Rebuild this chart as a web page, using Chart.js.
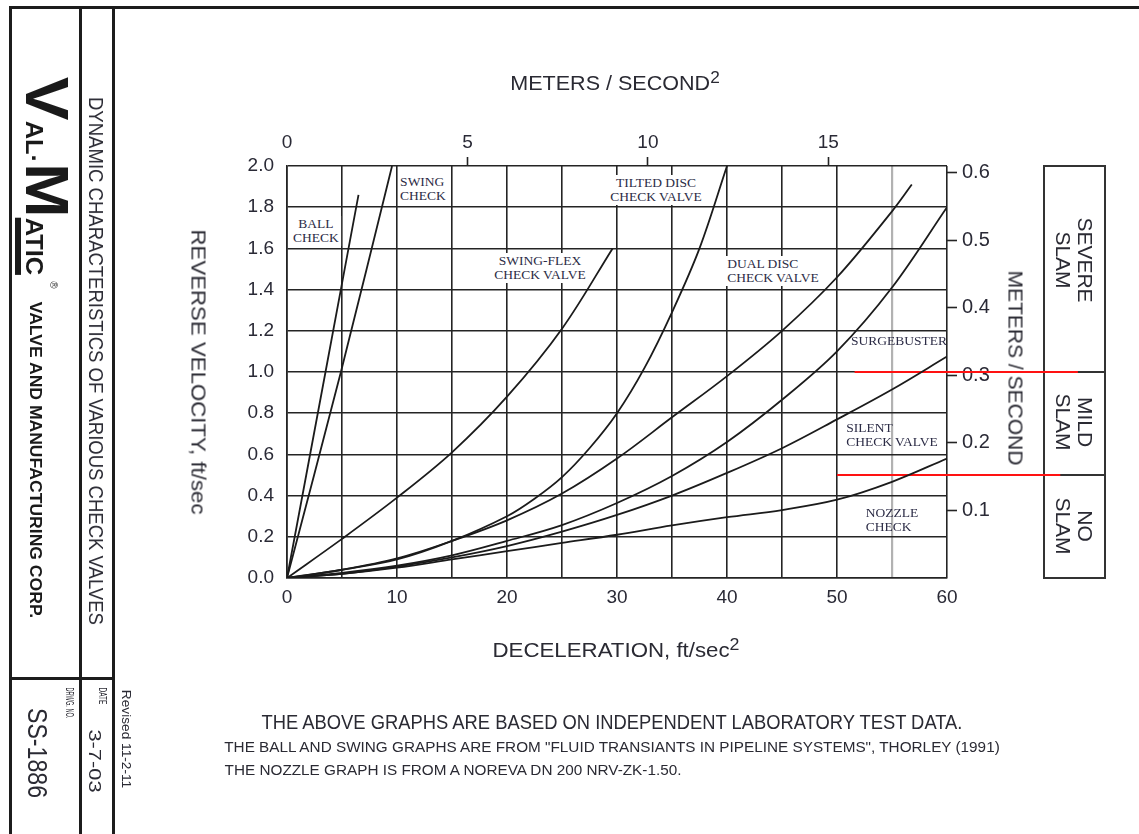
<!DOCTYPE html>
<html>
<head>
<meta charset="utf-8">
<title>Dynamic characteristics of various check valves</title>
<script src="https://cdn.jsdelivr.net/npm/chart.js@4.4.0/dist/chart.umd.min.js"></script>
<style>
  html, body { margin: 0; padding: 0; background: #fff; }
  body { position: relative; width: 1139px; height: 834px; overflow: hidden;
         font-family: "Liberation Sans", Arial, sans-serif; color: #222; }
  #wrap { position: absolute; left: 0; top: 0; width: 1139px; height: 834px; z-index: 2; }
  .rule { position: absolute; background: #1c1c1c; z-index: 1; }
  .txt { position: absolute; white-space: nowrap; line-height: 1; z-index: 3; color: #2a2a33; }
  .lbl { position: absolute; z-index: 3; white-space: nowrap;
         font-family: "Liberation Serif", "Times New Roman", serif;
         font-size: 13.5px; line-height: 14px; color: #2c2c46; padding: 1px 2px; }
  #slam { position: absolute; left: 1043px; top: 165px; width: 63px; height: 414px;
          border: 2px solid #333; box-sizing: border-box; z-index: 1; }
  #slam div { position: absolute; left: 0; right: 0; height: 2px; background: #333; }
  sup { font-size: 0.8em; vertical-align: 0.45em; line-height: 0; }
</style>
</head>
<body>
<div class="rule" style="left:10px; top:6px; width:1129px; height:3px;"></div>
<div class="rule" style="left:9px; top:6px; width:3px; height:828px;"></div>
<div class="rule" style="left:79px; top:6px; width:3px; height:828px;"></div>
<div class="rule" style="left:112px; top:6px; width:3px; height:828px;"></div>
<div class="rule" style="left:10px; top:677px; width:104px; height:3px;"></div>

<div id="slam"><div style="top:204px"></div><div style="top:307px"></div></div>

<div id="wrap"><canvas id="chart" width="1139" height="834"></canvas></div>

<script>
// values: x = deceleration (ft/sec2), y = reverse velocity (ft/sec)
const ballCheck  = [[0, 0], [3.5, 1.0], [6.5, 1.86]];
const swingCheck = [[0, 0], [4.9, 1.0], [9.55, 2.0]];
const swingFlex  = [[0, 0], [5, 0.19], [10, 0.39], [15, 0.61], [20, 0.88], [25, 1.21], [29.6, 1.6]];
const tiltedDisc = [[0, 0], [5, 0.04], [10, 0.09], [15, 0.18], [20, 0.3], [22.5, 0.385], [25, 0.49],
                    [27.5, 0.63], [30, 0.8], [32.5, 1.02], [35, 1.29], [37.5, 1.6], [40, 2.0]];
const dualDisc   = [[0, 0], [5, 0.04], [10, 0.095], [15, 0.18], [20, 0.28], [25, 0.41], [30, 0.58],
                    [35, 0.78], [40, 0.98], [45, 1.2], [50, 1.46], [55, 1.78], [56.8, 1.91]];
const surgebuster = [[0, 0], [5, 0.025], [10, 0.06], [15, 0.11], [20, 0.18], [25, 0.257], [30, 0.364],
                     [35, 0.495], [40, 0.66], [45, 0.865], [50, 1.1], [55, 1.41], [60, 1.8]];
const silentCheck = [[0, 0], [5, 0.02], [10, 0.055], [15, 0.1], [20, 0.155], [25, 0.225], [30, 0.306],
                     [35, 0.4], [40, 0.51], [45, 0.63], [50, 0.77], [55, 0.915], [60, 1.075]];
const nozzleCheck = [[0, 0], [5, 0.02], [10, 0.05], [15, 0.09], [20, 0.13], [25, 0.17], [30, 0.21],
                     [35, 0.255], [40, 0.295], [45, 0.33], [50, 0.38], [55, 0.467], [60, 0.58]];

// slam limits (run on into the slam column on the right)
const severeLimit = [[51.6, 1.0], [71.9, 1.0]];
const mildLimit   = [[50, 0.5], [70.3, 0.5]];

// tick labels
const decelLabels = [0, 10, 20, 30, 40, 50, 60];
const metricAccelTicks = [0, 5, 10, 15];
const metricVelTicks = [0.1, 0.2, 0.3, 0.4, 0.5, 0.6];
const FT = 0.3048;

const family = '"Liberation Sans", Arial, sans-serif';
const tickFont = { family: family, size: 19 };
const ink = '#242424';
const tickInk = '#2a2a36';

const toXY = pts => pts.map(p => ({ x: p[0], y: p[1] }));
const curve = (label, pts) => ({
    label: label,
    data: toXY(pts),
    borderColor: '#1b1b1b',
    borderWidth: 1.8,
    pointRadius: 0,
    fill: false,
    tension: 0.35
});
const limit = (label, pts) => ({
    label: label,
    data: toXY(pts),
    borderColor: '#ff1212',
    borderWidth: 1.8,
    pointRadius: 0,
    fill: false,
    tension: 0,
    clip: false
});

new Chart(document.getElementById('chart'), {
    type: 'line',
    data: {
        datasets: [
            curve('Ball check', ballCheck),
            curve('Swing check', swingCheck),
            curve('Swing-Flex check valve', swingFlex),
            curve('Tilted disc check valve', tiltedDisc),
            curve('Dual disc check valve', dualDisc),
            curve('Surgebuster', surgebuster),
            curve('Silent check valve', silentCheck),
            curve('Nozzle check', nozzleCheck),
            limit('Severe slam limit', severeLimit),
            limit('Mild slam limit', mildLimit)
        ]
    },
    options: {
        responsive: false,
        animation: false,
        layout: { padding: { left: 200, right: 110, top: 120, bottom: 200 } },
        plugins: { legend: { display: false }, tooltip: { enabled: false } },
        scales: {
            x: {
                type: 'linear', position: 'bottom', min: 0, max: 60,
                ticks: {
                    stepSize: 5, autoSkip: false, maxRotation: 0, padding: 8,
                    color: tickInk, font: tickFont,
                    callback: v => decelLabels.includes(v) ? String(v) : ''
                },
                grid: {
                    drawTicks: false,
                    color: c => c.tick && c.tick.value === 55 ? '#b2b2b2' : ink,
                    lineWidth: c => c.tick && c.tick.value === 55 ? 2.2 : 1.6
                },
                border: { color: ink, width: 1.6 },
                afterFit: s => { s.height = 56; }
            },
            xTop: {
                type: 'linear', position: 'top', min: 0, max: 60 * FT,
                afterBuildTicks: s => { s.ticks = metricAccelTicks.map(v => ({ value: v })); },
                ticks: { padding: 3, color: tickInk, font: tickFont, callback: v => String(v) },
                grid: {
                    drawOnChartArea: false, tickLength: 9, tickWidth: 1.6,
                    tickColor: c => c.tick && c.tick.value === 0 ? 'rgba(0,0,0,0)' : ink
                },
                border: { display: false },
                afterFit: s => { s.height = 46; }
            },
            y: {
                type: 'linear', position: 'left', min: 0, max: 2,
                ticks: {
                    stepSize: 0.2, padding: 13, color: tickInk, font: tickFont,
                    callback: v => v.toFixed(1)
                },
                grid: { drawTicks: false, color: ink, lineWidth: 1.6 },
                border: { color: ink, width: 1.6 },
                afterFit: s => { s.width = 87; }
            },
            yRight: {
                type: 'linear', position: 'right', min: 0, max: 2 * FT,
                afterBuildTicks: s => { s.ticks = metricVelTicks.map(v => ({ value: v })); },
                ticks: { padding: 5, color: tickInk, font: { family: family, size: 20 },
                         callback: v => v.toFixed(1) },
                grid: { drawOnChartArea: false, tickLength: 10, tickWidth: 1.6, tickColor: ink },
                border: { display: false },
                afterFit: s => { s.width = 82; }
            }
        }
    }
});

// plain text placed round the chart, fitted to the lengths in the drawing
function put(html, cx, cy, o) {
    const d = document.createElement('div');
    d.className = 'txt';
    d.innerHTML = html;
    d.style.fontSize = o.size + 'px';
    if (o.bold) d.style.fontWeight = 'bold';
    if (o.lh) { d.style.lineHeight = o.lh + 'px'; d.style.textAlign = 'center'; }
    if (o.color) d.style.color = o.color;
    d.style.left = cx + 'px';
    d.style.top = cy + 'px';
    document.body.appendChild(d);
    const sx = o.width ? o.width / d.offsetWidth : 1;
    d.style.transform = 'translate(-50%,-50%) rotate(' + (o.rot || 0) + 'deg) scaleX(' + sx.toFixed(3) + ')';
    return d;
}

function label(html, cx, cy, align, bg) {
    const d = document.createElement('div');
    d.className = 'lbl';
    d.innerHTML = html;
    d.style.textAlign = align;
    d.style.background = bg ? '#fff' : 'transparent';
    d.style.left = cx + 'px';
    d.style.top = cy + 'px';
    d.style.transform = 'translate(-50%,-50%)';
    document.body.appendChild(d);
}

// axis titles
put('METERS / SECOND<sup>2</sup>', 615, 83, { size: 20, width: 209 });
put('DECELERATION, ft/sec<sup>2</sup>', 616, 650, { size: 20, width: 247 });
put('REVERSE VELOCITY, ft/sec', 199, 372, { size: 21, width: 285, rot: 90 });
put('METERS / SECOND', 1016, 368, { size: 21, width: 195, rot: 90 });

// slam column
put('SEVERE<br>SLAM', 1074, 260, { size: 21, lh: 22, rot: 90 });
put('MILD<br>SLAM', 1074, 422, { size: 21, lh: 22, rot: 90 });
put('NO<br>SLAM', 1074, 526, { size: 21, lh: 22, rot: 90 });

// curve names
label('BALL<br>CHECK', 316, 231, 'center', true);
label('SWING<br>CHECK', 423, 189, 'left', true);
label('SWING-FLEX<br>CHECK VALVE', 540, 268, 'center', true);
label('TILTED DISC<br>CHECK VALVE', 656, 190, 'center', true);
label('DUAL DISC<br>CHECK VALVE', 773, 271, 'left', true);
label('SURGEBUSTER', 899, 341, 'center', false);
label('SILENT<br>CHECK VALVE', 892, 435, 'left', false);
label('NOZZLE<br>CHECK', 892, 520, 'left', false);

// notes under the chart
put('THE ABOVE GRAPHS ARE BASED ON INDEPENDENT LABORATORY TEST DATA.', 612, 722, { size: 20, width: 701 });
put('THE BALL AND SWING GRAPHS ARE FROM "FLUID TRANSIANTS IN PIPELINE SYSTEMS", THORLEY (1991)', 612, 746, { size: 15, width: 775 });
put('THE NOZZLE GRAPH IS FROM A NOREVA DN 200 NRV-ZK-1.50.', 453, 769, { size: 15, width: 457 });

// title block
put('<span style="font-size:62px">V</span><span style="font-size:24px">AL</span>' +
    '<span style="font-size:24px">&middot;</span><span style="font-size:62px">M</span>' +
    '<span style="font-size:24px; border-bottom:6px solid #1a1a1a">ATIC</span>',
    47, 176, { size: 24, bold: true, width: 198, rot: 90, color: '#1a1a1a' });
put('&reg;', 53, 285, { size: 10, rot: 90, color: '#333' });
put('VALVE AND MANUFACTURING CORP.', 35, 460, { size: 17, bold: true, width: 316, rot: 90, color: '#1a1a1a' });
put('DYNAMIC CHARACTERISTICS OF VARIOUS CHECK VALVES', 96, 361, { size: 20, width: 528, rot: 90 });
put('SS-1886', 37, 753, { size: 28, width: 90, rot: 90 });
put('DRWG. NO.', 69, 703, { size: 10, width: 31, rot: 90 });
put('DATE', 102, 696, { size: 10, width: 17, rot: 90 });
put('3-7-03', 94, 761, { size: 17, width: 63, rot: 90 });
put('Revised 11-2-11', 126, 739, { size: 12, width: 98, rot: 90 });
</script>
</body>
</html>
